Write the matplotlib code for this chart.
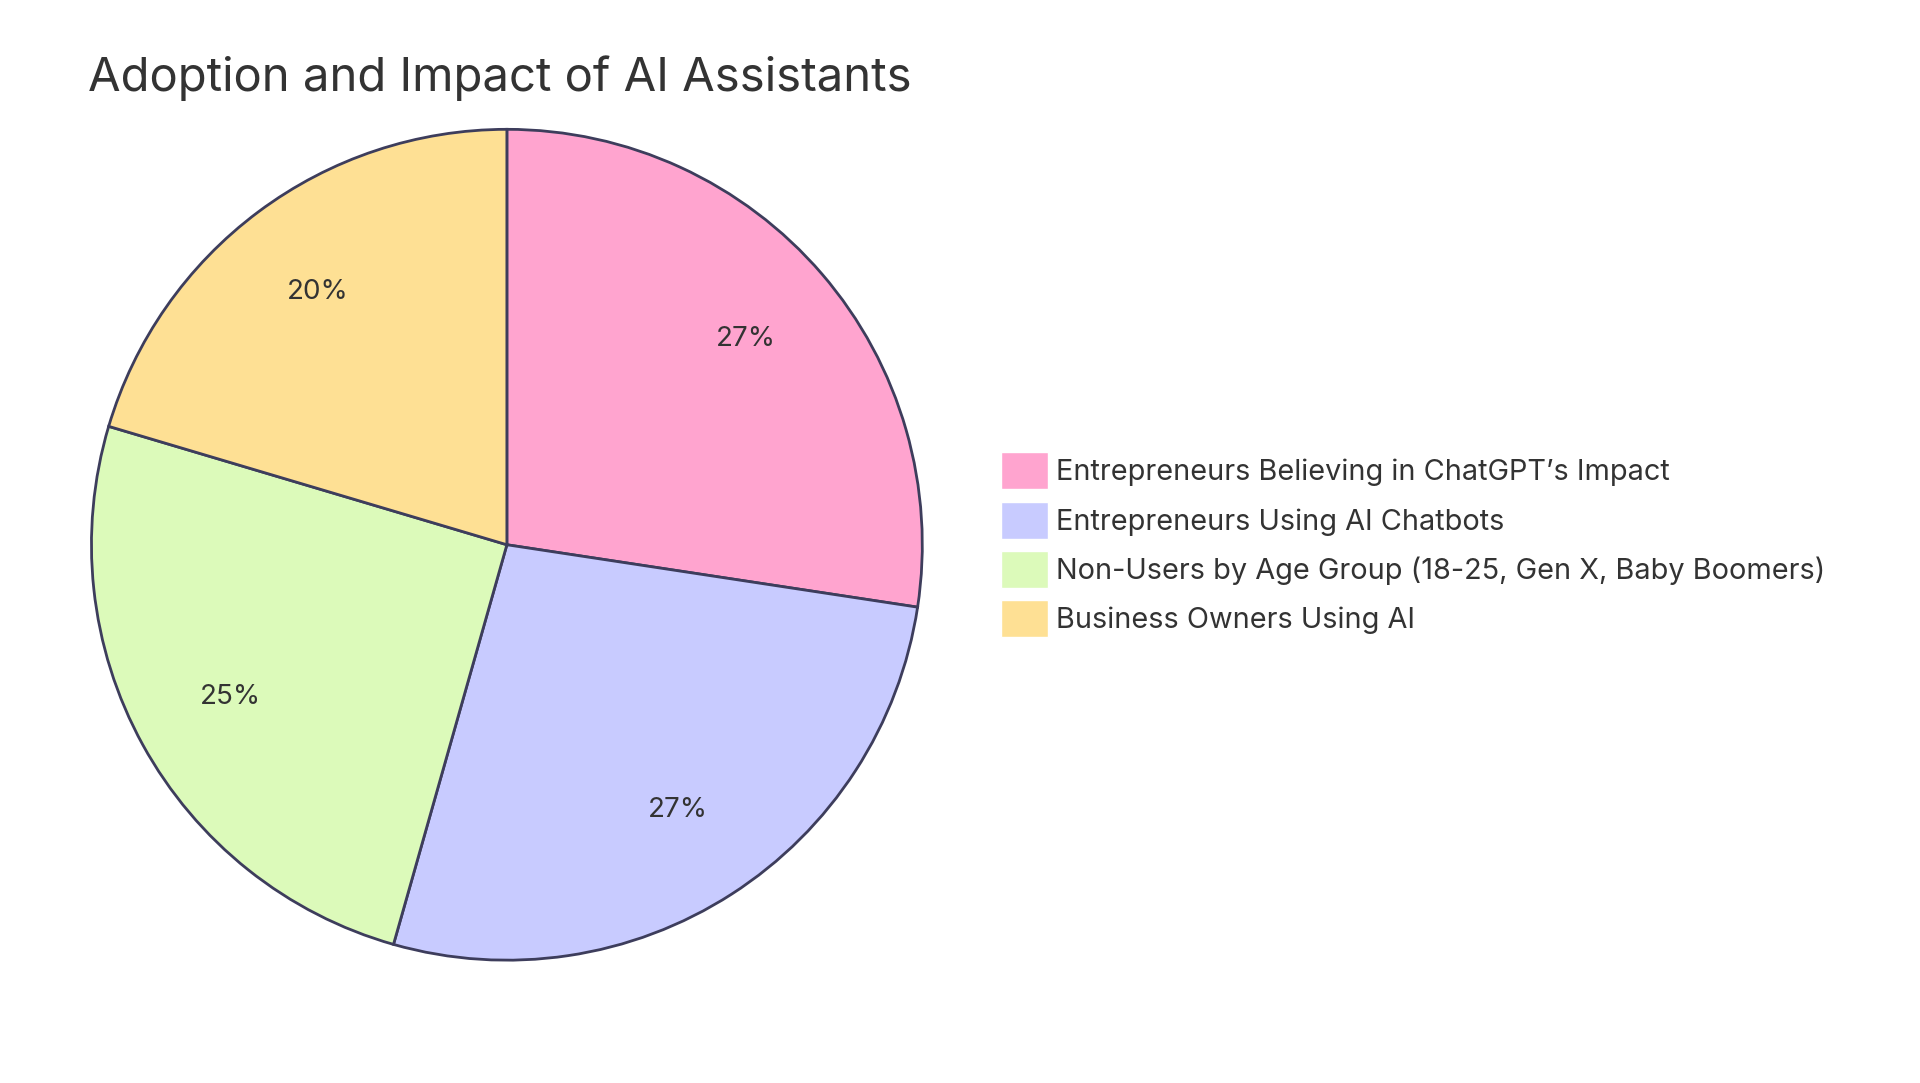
import matplotlib
matplotlib.use("Agg")
import matplotlib.pyplot as plt

labels = ["Entrepreneurs Believing in ChatGPT\u2019s Impact", "Entrepreneurs Using AI Chatbots",
          "Non-Users by Age Group (18-25, Gen X, Baby Boomers)", "Business Owners Using AI"]
values = [27.4, 27.0, 25.2, 20.4]
colors = ["#FFA4CF", "#C8CBFF", "#DCFABA", "#FEE094"]

plt.rcParams["font.family"] = "Inter"
fig = plt.figure(figsize=(19.2, 10.83), dpi=100)
ax = fig.add_axes([0.0465, 0.1115, 0.435, 0.771])
wedges, _, autot = ax.pie(values, colors=colors, startangle=90, counterclock=False,
                          autopct="%.0f%%", pctdistance=0.76,
                          wedgeprops=dict(edgecolor="#3d3d5c", linewidth=2),
                          textprops=dict(fontsize=20, color="#333333"))
ax.set_xlim(-1.005, 1.005)
ax.set_ylim(-1.005, 1.005)
ax.set_aspect("equal")
fig.text(0.046, 0.928, "Adoption and Impact of AI Assistants", fontsize=34, color="#333333", va="center")
leg = fig.legend(wedges, labels, loc="center left", bbox_to_anchor=(0.508, 0.497), frameon=False,
                 fontsize=20.8, handlelength=1.6, handleheight=1.6, labelspacing=0.42, handletextpad=0.3,
                 labelcolor="#333333")
for h in leg.legend_handles:
    h.set_edgecolor("white")
    h.set_linewidth(1)
fig.savefig("out.png", dpi=100, facecolor="white")
